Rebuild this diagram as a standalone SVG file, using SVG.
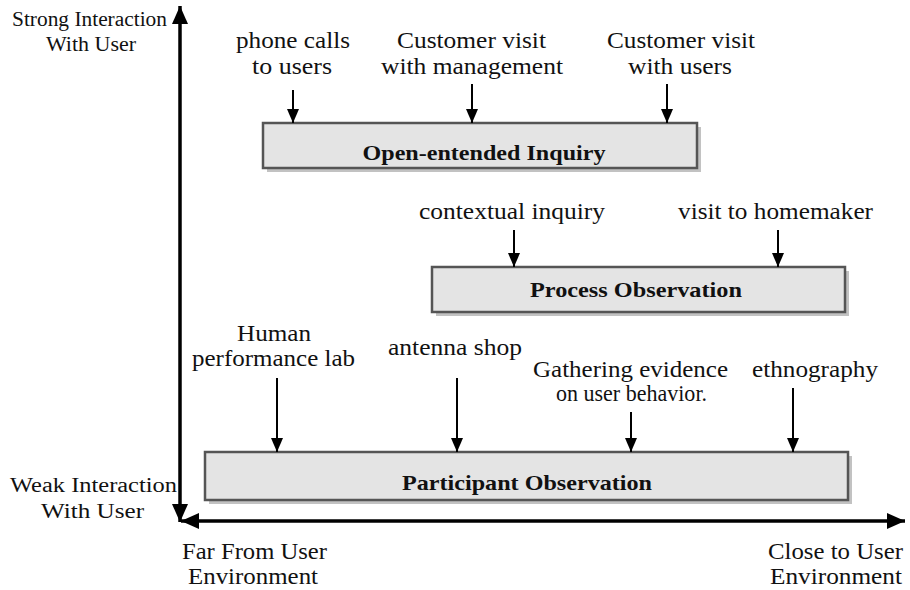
<svg xmlns="http://www.w3.org/2000/svg" width="910" height="590" viewBox="0 0 910 590" font-family="'Liberation Serif', 'Times New Roman', Tinos, serif">
<defs>
<marker id="ah" markerUnits="userSpaceOnUse" markerWidth="14" markerHeight="14" viewBox="0 0 14 14" refX="14" refY="7" orient="auto">
<path d="M0,1 L14,7 L0,13 Z" fill="#000"/>
</marker>
<marker id="axh" markerUnits="userSpaceOnUse" markerWidth="18" markerHeight="16" viewBox="0 0 18 16" refX="18" refY="8" orient="auto">
<path d="M0,0 L18,8 L0,16 Z" fill="#000"/>
</marker>
</defs>
<style>
text{fill:#111;text-anchor:middle}
.lbl{font-size:23px}
.ax{font-size:20px}
.bt{font-size:22px;font-weight:bold}
.box{fill:#e4e4e4;stroke:#555;stroke-width:2.5}
.sh{fill:#9a9a9a;opacity:0.6}
.arr{stroke:#000;stroke-width:2;fill:none;marker-end:url(#ah)}
.axis{stroke:#000;stroke-width:3.5;fill:none;marker-end:url(#axh)}
</style>
<rect width="910" height="590" fill="#fff"/>

<g id="axes">
<line class="axis" x1="180" y1="300" x2="180" y2="6"/>
<line class="axis" x1="180" y1="300" x2="180" y2="522"/>
<line class="axis" x1="550" y1="521" x2="181" y2="521"/>
<line class="axis" x1="550" y1="521" x2="905" y2="521"/>
</g>

<g id="axis-labels">
<text class="ax" x="89.5" y="26" textLength="155" lengthAdjust="spacingAndGlyphs">Strong Interaction</text>
<text class="ax" x="91" y="51" textLength="90" lengthAdjust="spacingAndGlyphs">With User</text>
<text class="ax" x="93.5" y="492" textLength="167" lengthAdjust="spacingAndGlyphs">Weak Interaction</text>
<text class="ax" x="92.5" y="518" textLength="103" lengthAdjust="spacingAndGlyphs">With User</text>
<text class="lbl" x="254.5" y="559" textLength="145" lengthAdjust="spacingAndGlyphs">Far From User</text>
<text class="lbl" x="253" y="584" textLength="130" lengthAdjust="spacingAndGlyphs">Environment</text>
<text class="lbl" x="835.5" y="559" textLength="135" lengthAdjust="spacingAndGlyphs">Close to User</text>
<text class="lbl" x="836" y="584" textLength="132" lengthAdjust="spacingAndGlyphs">Environment</text>
</g>

<g id="open-ended-inquiry">
<rect class="sh" x="267" y="127" width="434" height="45"/>
<rect class="box" x="263" y="123" width="434" height="45"/>
<text class="bt" x="484" y="160" textLength="243" lengthAdjust="spacingAndGlyphs">Open-entended Inquiry</text>
</g>

<g id="process-observation">
<rect class="sh" x="436" y="271" width="413" height="45"/>
<rect class="box" x="432" y="267" width="413" height="45"/>
<text class="bt" x="636" y="297" textLength="212" lengthAdjust="spacingAndGlyphs">Process Observation</text>
</g>

<g id="participant-observation">
<rect class="sh" x="209" y="456" width="643" height="48"/>
<rect class="box" x="205" y="452" width="643" height="48"/>
<text class="bt" x="527" y="490" textLength="250" lengthAdjust="spacingAndGlyphs">Participant Observation</text>
</g>

<g id="label-phone">
<text class="lbl" x="293" y="48" textLength="114" lengthAdjust="spacingAndGlyphs">phone calls</text>
<text class="lbl" x="292" y="74" textLength="80" lengthAdjust="spacingAndGlyphs">to users</text>
</g>
<g id="label-cust-mgmt">
<text class="lbl" x="471.5" y="48" textLength="149" lengthAdjust="spacingAndGlyphs">Customer visit</text>
<text class="lbl" x="472" y="74" textLength="182" lengthAdjust="spacingAndGlyphs">with management</text>
</g>
<g id="label-cust-users">
<text class="lbl" x="681" y="48" textLength="148" lengthAdjust="spacingAndGlyphs">Customer visit</text>
<text class="lbl" x="680" y="74" textLength="104" lengthAdjust="spacingAndGlyphs">with users</text>
</g>
<g id="label-contextual">
<text class="lbl" x="512" y="219" textLength="186" lengthAdjust="spacingAndGlyphs">contextual inquiry</text>
</g>
<g id="label-homemaker">
<text class="lbl" x="775.5" y="219" textLength="195" lengthAdjust="spacingAndGlyphs">visit to homemaker</text>
</g>
<g id="label-human">
<text class="lbl" x="274" y="341" textLength="74" lengthAdjust="spacingAndGlyphs">Human</text>
<text class="lbl" x="273.5" y="366" textLength="163" lengthAdjust="spacingAndGlyphs">performance lab</text>
</g>
<g id="label-antenna">
<text class="lbl" x="455" y="355" textLength="134" lengthAdjust="spacingAndGlyphs">antenna shop</text>
</g>
<g id="label-gathering">
<text class="lbl" x="630.5" y="377" textLength="195" lengthAdjust="spacingAndGlyphs">Gathering evidence</text>
<text class="lbl" x="631.5" y="401" textLength="151" lengthAdjust="spacingAndGlyphs">on user behavior.</text>
</g>
<g id="label-ethnography">
<text class="lbl" x="815" y="377" textLength="126" lengthAdjust="spacingAndGlyphs">ethnography</text>
</g>

<g id="connectors">
<line class="arr" x1="293" y1="90" x2="293" y2="123"/>
<line class="arr" x1="472" y1="84" x2="472" y2="123"/>
<line class="arr" x1="667" y1="84" x2="667" y2="123"/>
<line class="arr" x1="514" y1="230" x2="514" y2="267"/>
<line class="arr" x1="778" y1="230" x2="778" y2="267"/>
<line class="arr" x1="277" y1="378" x2="277" y2="452"/>
<line class="arr" x1="457" y1="378" x2="457" y2="452"/>
<line class="arr" x1="631" y1="412" x2="631" y2="452"/>
<line class="arr" x1="793" y1="388" x2="793" y2="452"/>
</g>
</svg>
